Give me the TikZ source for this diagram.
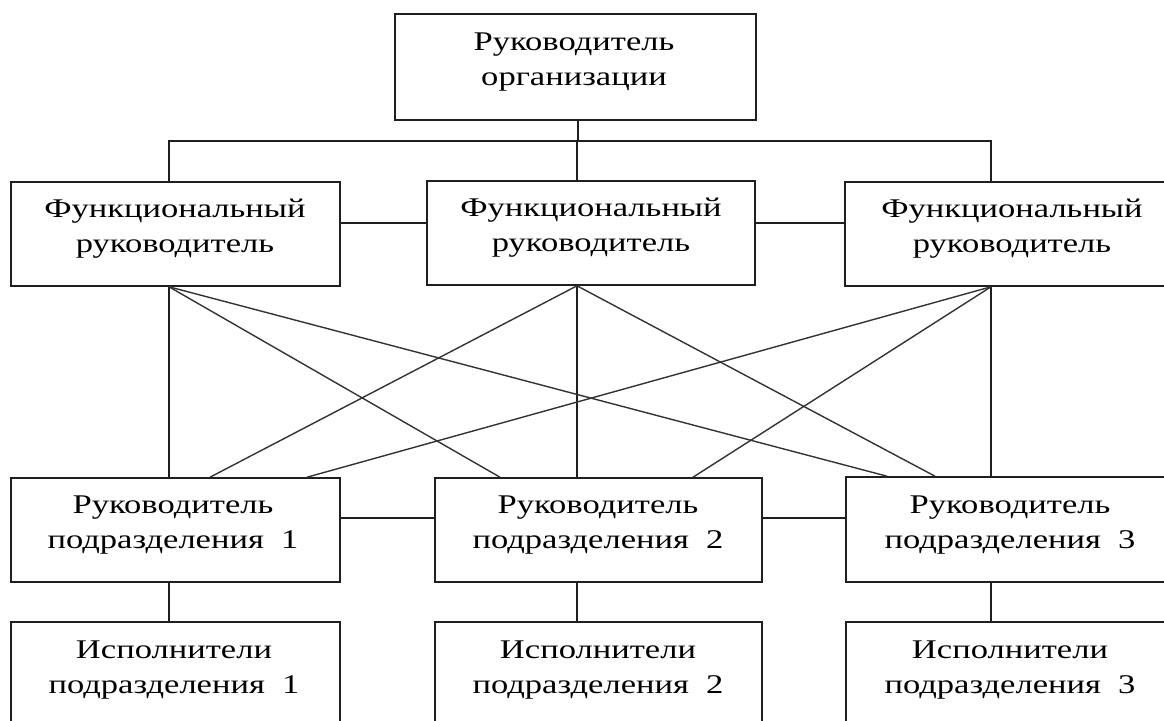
\documentclass[tikz,border=0pt]{standalone}
\usepackage{fontspec}
\setmainfont{Liberation Serif}[FakeStretch=1.28]
\begin{document}
\begin{tikzpicture}[x=1pt,y=-1pt,
  box/.style={draw=black!88, line width=1.6pt, rectangle, inner sep=0pt},
  lbl/.style={inner sep=0pt, anchor=base, font=\fontsize{27}{35}\selectfont},
  link/.style={draw=black!88, line width=1.6pt},
  diag/.style={draw=black!80, line width=1.4pt}]
\useasboundingbox (0,0) rectangle (1164,720);
\clip (0,0) rectangle (1164,720);
\newcommand{\twol}[2]{\begin{tabular}[t]{@{}c@{}}#1\\#2\end{tabular}}
% boxes
\node[box, minimum width=361pt, minimum height=106pt] (top) at (575.5,67) {};
\node[box, minimum width=329pt, minimum height=104pt] (f1) at (175.5,234) {};
\node[box, minimum width=328pt, minimum height=104pt] (f2) at (591,233) {};
\node[box, minimum width=334pt, minimum height=104pt] (f3) at (1012,234) {};
\node[box, minimum width=329pt, minimum height=104pt] (s1) at (175.5,530) {};
\node[box, minimum width=327pt, minimum height=104pt] (s2) at (598.5,530) {};
\node[box, minimum width=328pt, minimum height=105pt] (s3) at (1010,529.5) {};
\node[box, minimum width=329pt, minimum height=118pt] (e1) at (175.5,681) {};
\node[box, minimum width=327pt, minimum height=118pt] (e2) at (598.5,681) {};
\node[box, minimum width=328pt, minimum height=118pt] (e3) at (1010,681) {};
% labels
\node[lbl] (tt) at (574,50) {\twol{Руководитель}{организации}};
\node[lbl] (f1t) at (175,217) {\twol{Функциональный}{руководитель}};
\node[lbl] (f2t) at (591,216) {\twol{Функциональный}{руководитель}};
\node[lbl] (f3t) at (1012,217) {\twol{Функциональный}{руководитель}};
\node[lbl] (s1t) at (173,513) {\twol{Руководитель}{подразделения\ \ 1}};
\node[lbl] (s2t) at (598,513) {\twol{Руководитель}{подразделения\ \ 2}};
\node[lbl] (s3t) at (1010,513) {\twol{Руководитель}{подразделения\ \ 3}};
\node[lbl] (e1t) at (174,658) {\twol{Исполнители}{подразделения\ \ 1}};
\node[lbl] (e2t) at (598,658) {\twol{Исполнители}{подразделения\ \ 2}};
\node[lbl] (e3t) at (1010,658) {\twol{Исполнители}{подразделения\ \ 3}};
% attachment points
\coordinate (bus) at (0,141);
\coordinate (f1b) at (f1.south -| 169,0);
\coordinate (f2b) at (f2.south -| 577,0);
\coordinate (f3b) at (f3.south -| 991,0);
% tree from the head
\draw[link] (top.south -| 578,0) -- (578,141);
\draw[link] (f1.north -| 169,0) -- (bus -| 169,0) -- (bus -| 991,0) -- (f3.north -| 991,0);
\draw[link] (f2.north -| 577,0) -- (bus -| 577,0);
% horizontal links
\draw[link] (f1.east |- 0,223) -- (f2.west |- 0,223);
\draw[link] (f2.east |- 0,223) -- (f3.west |- 0,223);
\draw[link] (s1.east |- 0,518) -- (s2.west |- 0,518);
\draw[link] (s2.east |- 0,518) -- (s3.west |- 0,518);
% verticals
\draw[link] (f1b) -- (s1.north -| 169,0);
\draw[link] (f2b) -- (s2.north -| 577,0);
\draw[link] (f3b) -- (s3.north -| 991,0);
\draw[link] (s1.south -| 169,0) -- (e1.north -| 169,0);
\draw[link] (s2.south -| 577,0) -- (e2.north -| 577,0);
\draw[link] (s3.south -| 991,0) -- (e3.north -| 991,0);
% diagonals
\draw[diag] (f1b) -- (s2.north -| 500,0);
\draw[diag] (f1b) -- (s3.north -| 887,0);
\draw[diag] (f2b) -- (s1.north -| 210,0);
\draw[diag] (f2b) -- (s3.north -| 935,0);
\draw[diag] (f3b) -- (s1.north -| 307,0);
\draw[diag] (f3b) -- (s2.north -| 693,0);
\end{tikzpicture}
\end{document}
